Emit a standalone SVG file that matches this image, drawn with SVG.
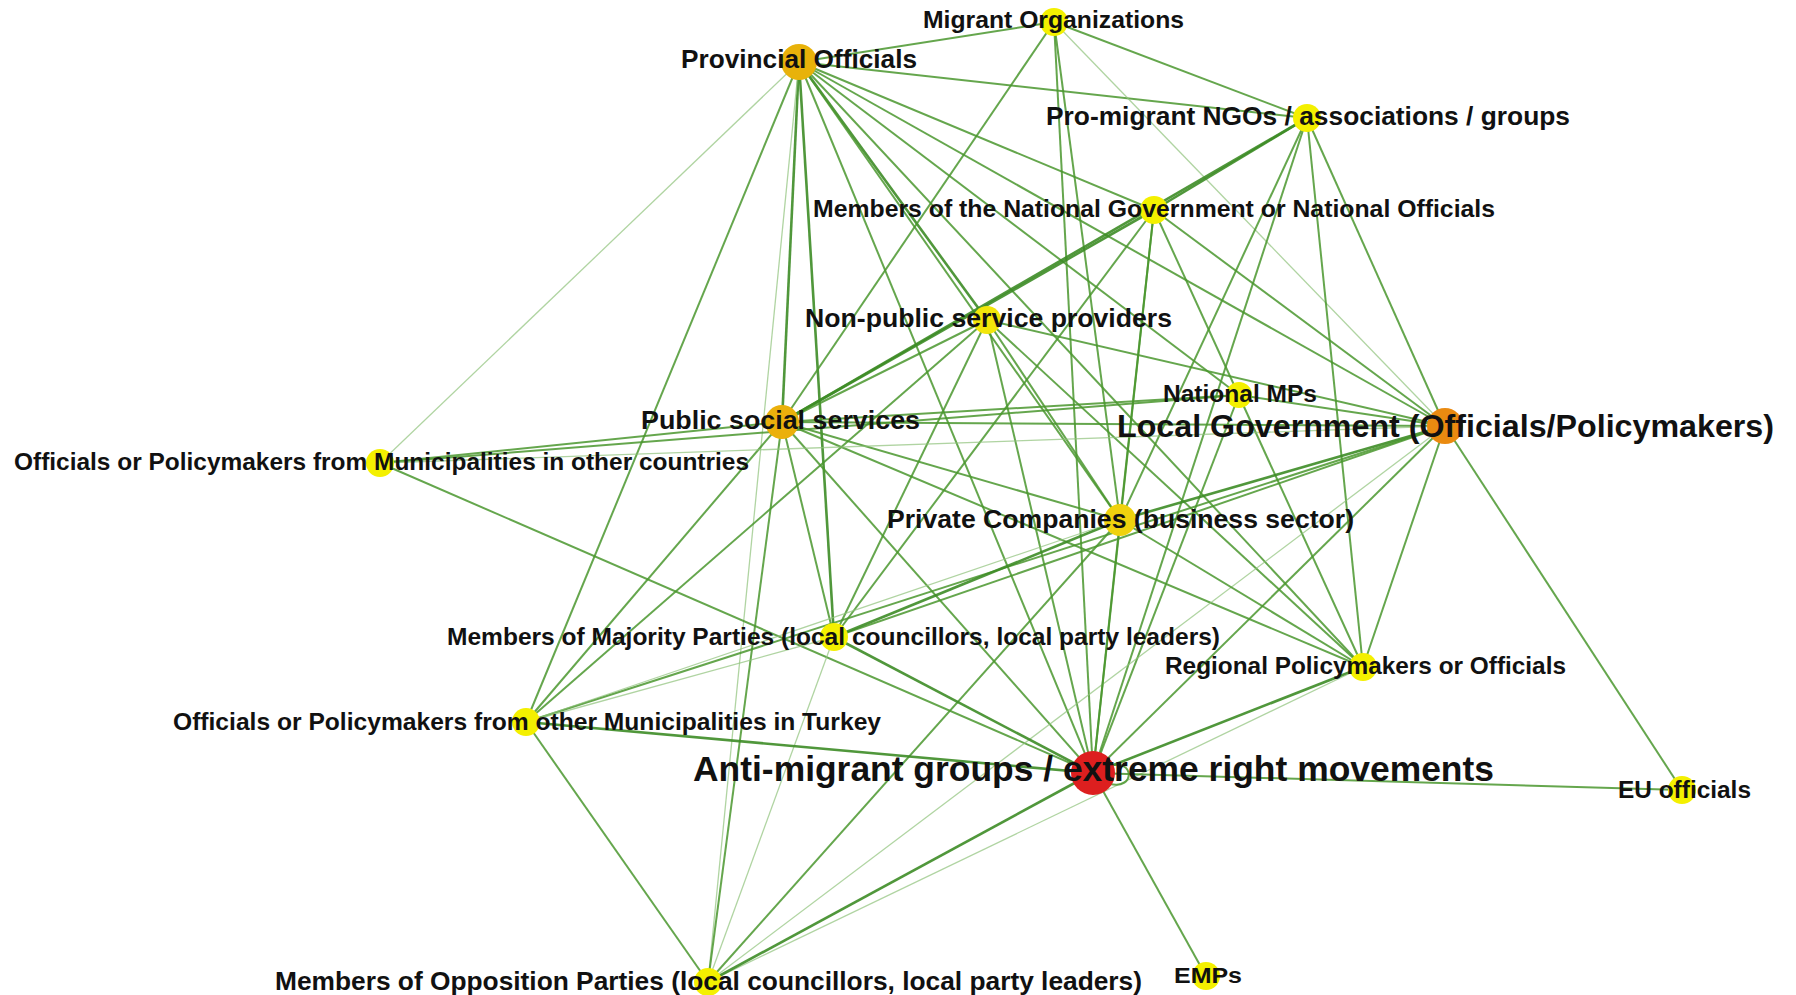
<svg xmlns="http://www.w3.org/2000/svg" width="1796" height="995" viewBox="0 0 1796 995">
<style>
.e{stroke:#4a962e;stroke-width:2;stroke-opacity:0.85;fill:none}
.h{stroke:#3d8c26;stroke-width:2.6;stroke-opacity:0.9;fill:none}
.l{stroke:#8fc27a;stroke-width:1.3;stroke-opacity:0.7;fill:none}
.y{fill:#f4f000}
text{font-family:"Liberation Sans",Arial,sans-serif;font-weight:bold;fill:#111}
</style>
<rect width="1796" height="995" fill="#ffffff"/>
<g id="edges">
<!-- Provincial Officials -->
<line class="e" x1="799" y1="62" x2="1054" y2="22"/>
<line class="e" x1="799" y1="62" x2="1307" y2="118"/>
<line class="e" x1="799" y1="62" x2="1154" y2="210"/>
<line class="h" x1="799" y1="62" x2="987" y2="320"/>
<line class="h" x1="799" y1="62" x2="782" y2="422"/>
<line class="h" x1="799" y1="62" x2="834" y2="637"/>
<line class="e" x1="799" y1="62" x2="526" y2="722"/>
<line class="e" x1="799" y1="62" x2="1445" y2="426"/>
<line class="e" x1="799" y1="62" x2="1120" y2="520"/>
<line class="e" x1="799" y1="62" x2="1093" y2="773"/>
<line class="e" x1="799" y1="62" x2="1363" y2="667"/>
<line class="e" x1="799" y1="62" x2="1239" y2="395"/>
<line class="l" x1="799" y1="62" x2="380" y2="463"/>
<line class="l" x1="799" y1="62" x2="708" y2="982"/>
<!-- Migrant Organizations -->
<line class="e" x1="1054" y1="22" x2="1307" y2="118"/>
<line class="e" x1="1054" y1="22" x2="782" y2="422"/>
<line class="l" x1="1054" y1="22" x2="1445" y2="426"/>
<line class="e" x1="1054" y1="22" x2="1093" y2="773"/>
<line class="e" x1="1054" y1="22" x2="1120" y2="520"/>
<!-- NGOs -->
<line class="h" x1="1307" y1="118" x2="1154" y2="210"/>
<line class="h" x1="1307" y1="118" x2="782" y2="422"/>
<line class="e" x1="1307" y1="118" x2="1445" y2="426"/>
<line class="e" x1="1307" y1="118" x2="1363" y2="667"/>
<line class="e" x1="1307" y1="118" x2="1093" y2="773"/>
<line class="e" x1="1307" y1="118" x2="1120" y2="520"/>
<!-- National Government -->
<line class="h" x1="1154" y1="210" x2="782" y2="422"/>
<line class="e" x1="1154" y1="210" x2="1445" y2="426"/>
<line class="e" x1="1154" y1="210" x2="1093" y2="773"/>
<line class="e" x1="1154" y1="210" x2="1120" y2="520"/>
<line class="e" x1="1154" y1="210" x2="1363" y2="667"/>
<line class="e" x1="1154" y1="210" x2="834" y2="637"/>
<!-- Non-public -->
<line class="e" x1="987" y1="320" x2="782" y2="422"/>
<line class="e" x1="987" y1="320" x2="1445" y2="426"/>
<line class="e" x1="987" y1="320" x2="1120" y2="520"/>
<line class="e" x1="987" y1="320" x2="1363" y2="667"/>
<line class="e" x1="987" y1="320" x2="1093" y2="773"/>
<line class="e" x1="987" y1="320" x2="834" y2="637"/>
<line class="e" x1="987" y1="320" x2="526" y2="722"/>
<!-- National MPs -->
<line class="e" x1="1239" y1="395" x2="782" y2="422"/>
<line class="e" x1="1239" y1="395" x2="1445" y2="426"/>
<line class="e" x1="1239" y1="395" x2="1093" y2="773"/>
<line class="e" x1="1239" y1="395" x2="380" y2="463"/>
<!-- Public social services -->
<line class="e" x1="782" y1="422" x2="1445" y2="426"/>
<line class="e" x1="782" y1="422" x2="1120" y2="520"/>
<line class="e" x1="782" y1="422" x2="1363" y2="667"/>
<line class="e" x1="782" y1="422" x2="1093" y2="773"/>
<line class="e" x1="782" y1="422" x2="834" y2="637"/>
<line class="e" x1="782" y1="422" x2="708" y2="982"/>
<line class="e" x1="782" y1="422" x2="526" y2="722"/>
<line class="e" x1="782" y1="422" x2="380" y2="463"/>
<!-- Other countries -->
<line class="l" x1="380" y1="463" x2="1445" y2="426"/>
<line class="e" x1="380" y1="463" x2="1093" y2="773"/>
<!-- Local Government -->
<line class="h" x1="1445" y1="426" x2="1120" y2="520"/>
<line class="e" x1="1445" y1="426" x2="834" y2="637"/>
<line class="e" x1="1445" y1="426" x2="526" y2="722"/>
<line class="e" x1="1445" y1="426" x2="1093" y2="773"/>
<line class="e" x1="1445" y1="426" x2="1363" y2="667"/>
<line class="e" x1="1445" y1="426" x2="1682" y2="790"/>
<line class="l" x1="1445" y1="426" x2="708" y2="982"/>
<!-- Private Companies -->
<line class="e" x1="1120" y1="520" x2="1363" y2="667"/>
<line class="e" x1="1120" y1="520" x2="1093" y2="773"/>
<line class="h" x1="1120" y1="520" x2="834" y2="637"/>
<line class="l" x1="1120" y1="520" x2="526" y2="722"/>
<line class="e" x1="1120" y1="520" x2="708" y2="982"/>
<!-- Majority Parties -->
<line class="h" x1="834" y1="637" x2="1093" y2="773"/>
<line class="l" x1="834" y1="637" x2="526" y2="722"/>
<line class="l" x1="834" y1="637" x2="708" y2="982"/>
<!-- Regional -->
<line class="h" x1="1363" y1="667" x2="1093" y2="773"/>
<line class="l" x1="1363" y1="667" x2="708" y2="982"/>
<!-- Turkey -->
<line class="h" x1="526" y1="722" x2="1093" y2="773"/>
<line class="e" x1="526" y1="722" x2="708" y2="982"/>
<!-- Anti-migrant -->
<line class="h" x1="1093" y1="773" x2="708" y2="982"/>
<line class="e" x1="1093" y1="773" x2="1682" y2="790"/>
<line class="e" x1="1093" y1="773" x2="1206" y2="976"/>
<path class="e" d="M1110,766 C1134,758 1136,790 1110,784"/>
</g>
<g id="n-provincial"><circle cx="799" cy="62" r="18" fill="#e8b20a"/><text x="681" y="68" font-size="26" textLength="236" lengthAdjust="spacingAndGlyphs">Provincial Officials</text></g>
<g id="n-migrant-org"><circle cx="1054" cy="22" r="14" class="y"/><text x="923" y="28" font-size="24" textLength="261" lengthAdjust="spacingAndGlyphs">Migrant Organizations</text></g>
<g id="n-ngos"><circle cx="1307" cy="118" r="14" class="y"/><text x="1046" y="125" font-size="25" textLength="524" lengthAdjust="spacingAndGlyphs">Pro-migrant NGOs / associations / groups</text></g>
<g id="n-national-gov"><circle cx="1154" cy="210" r="14" class="y"/><text x="813" y="217" font-size="24" textLength="682" lengthAdjust="spacingAndGlyphs">Members of the National Government or National Officials</text></g>
<g id="n-nonpublic"><circle cx="987" cy="320" r="14" fill="#f2e60a"/><text x="805" y="327" font-size="26" textLength="367" lengthAdjust="spacingAndGlyphs">Non-public service providers</text></g>
<g id="n-mps"><circle cx="1239" cy="395" r="13" class="y"/><text x="1163" y="402" font-size="23" textLength="154" lengthAdjust="spacingAndGlyphs">National MPs</text></g>
<g id="n-public-social"><circle cx="782" cy="422" r="17" fill="#ebb00c"/><text x="641" y="429" font-size="26" textLength="279" lengthAdjust="spacingAndGlyphs">Public social services</text></g>
<g id="n-other-countries"><circle cx="380" cy="463" r="14" class="y"/><text x="14" y="470" font-size="24" textLength="735" lengthAdjust="spacingAndGlyphs">Officials or Policymakers from Municipalities in other countries</text></g>
<g id="n-local-gov"><circle cx="1445" cy="426" r="18" fill="#ea8a10"/><text x="1117" y="437" font-size="32" textLength="657" lengthAdjust="spacingAndGlyphs">Local Government (Officials/Policymakers)</text></g>
<g id="n-private"><circle cx="1120" cy="520" r="16" fill="#f0d20e"/><text x="887" y="528" font-size="26" textLength="467" lengthAdjust="spacingAndGlyphs">Private Companies (business sector)</text></g>
<g id="n-majority"><circle cx="834" cy="637" r="14" class="y"/><text x="447" y="645" font-size="24" textLength="773" lengthAdjust="spacingAndGlyphs">Members of Majority Parties (local councillors, local party leaders)</text></g>
<g id="n-regional"><circle cx="1363" cy="667" r="14" class="y"/><text x="1165" y="674" font-size="24" textLength="401" lengthAdjust="spacingAndGlyphs">Regional Policymakers or Officials</text></g>
<g id="n-turkey"><circle cx="526" cy="722" r="14" class="y"/><text x="173" y="730" font-size="24" textLength="708" lengthAdjust="spacingAndGlyphs">Officials or Policymakers from other Municipalities in Turkey</text></g>
<g id="n-anti-migrant"><circle cx="1093" cy="773" r="22" fill="#dd1f1f"/><text x="693" y="781" font-size="35" textLength="801" lengthAdjust="spacingAndGlyphs">Anti-migrant groups / extreme right movements</text></g>
<g id="n-eu"><circle cx="1682" cy="790" r="14" class="y"/><text x="1618" y="798" font-size="23" textLength="133" lengthAdjust="spacingAndGlyphs">EU officials</text></g>
<g id="n-opposition"><circle cx="708" cy="982" r="14" class="y"/><text x="275" y="990" font-size="25" textLength="867" lengthAdjust="spacingAndGlyphs">Members of Opposition Parties (local councillors, local party leaders)</text></g>
<g id="n-emps"><circle cx="1206" cy="976" r="14" class="y"/><text x="1174" y="983" font-size="22" textLength="68" lengthAdjust="spacingAndGlyphs">EMPs</text></g>
</svg>
